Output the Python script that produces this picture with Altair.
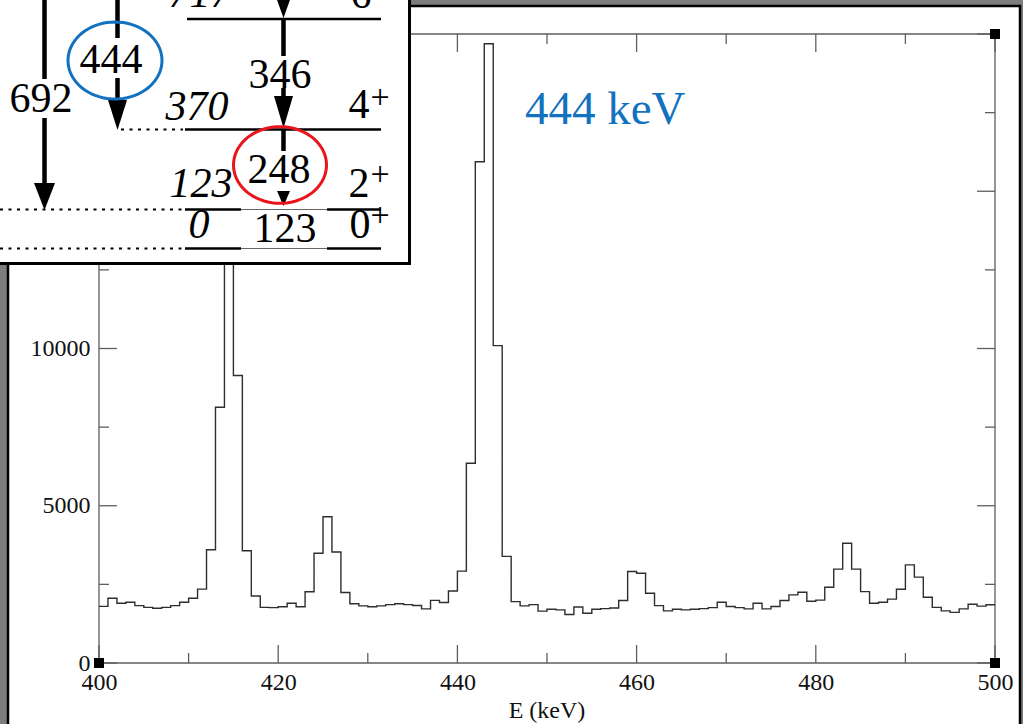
import altair as alt
import pandas as pd
import numpy as np

SERIF = "Liberation Serif"
OX, OY = 99, 34          # plot-area origin in the page
W, H = 896, 629          # plot-area size

# ---------------- data ----------------
bin_start = list(range(400, 500))
counts = [
    1800, 2060, 1900, 1930, 1825, 1770, 1740, 1770, 1825, 1930,   # 400-409
    2060, 2350, 3600, 8130, 17000, 9140, 3570, 2130, 1770, 1760,  # 410-419
    1790, 1900, 1790, 2265, 3490, 4650, 3530, 2240, 1885, 1815,   # 420-429
    1790, 1815, 1855, 1885, 1855, 1830, 1720, 1990, 1925, 2290,   # 430-439
    2920, 6350, 15940, 19690, 10090, 3390, 1950, 1815, 1855, 1650,  # 440-449
    1710, 1690, 1540, 1783, 1580, 1710, 1730, 1750, 1985, 2910,   # 450-459
    2855, 2220, 1825, 1656, 1710, 1690, 1710, 1730, 1760, 1930,   # 460-469
    1795, 1760, 1720, 1900, 1720, 1795, 1985, 2165, 2250, 1965,   # 470-479
    2000, 2410, 2985, 3810, 2985, 2270, 1900, 1930, 2030, 2345,   # 480-489
    3120, 2730, 2090, 1770, 1656, 1610, 1720, 1870, 1810, 1850,   # 490-499
]
x_major = [400, 420, 440, 460, 480, 500]
x_minor = [410, 430, 450, 470, 490]
y_major = [0, 5000, 10000, 15000, 20000]
y_minor = [2500, 7500, 12500, 17500]
y_labels = [0, 5000, 10000]
corner_E = [400, 500, 500, 400]
corner_N = [0, 0, 20000, 20000]

level_energy = ["0", "123", "370", "717"]
level_spin = ["0", "2", "4", "6"]
gamma_energy = ["692", "444", "346", "248", "123"]
peak_label = "444 keV"
x_title = "E (keV)"

# ---------------- styles ----------------
FRAME = "#5f5f5f"
BLUE = "#1272c0"
RED = "#e8161c"

xs = alt.Scale(domain=[400, 500], nice=False, zero=False)
ys = alt.Scale(domain=[0, 20000], nice=False, zero=True)
AX = alt.Axis(values=x_major, format="d", title=None, ticks=False, tickSize=0,
              domain=False, grid=False, labelFont=SERIF, labelFontSize=24,
              labelColor="#111111", labelPadding=7, labelFlush=False, zindex=1)
AY = alt.Axis(values=y_labels, format="d", title=None, ticks=False, tickSize=0,
              domain=False, grid=False, labelFont=SERIF, labelFontSize=24,
              labelColor="#111111", labelPadding=9, labelFlush=False, zindex=1)

def X(f="E"):
    return alt.X(f + ":Q", scale=xs, axis=AX)

def Y(f="N"):
    return alt.Y(f + ":Q", scale=ys, axis=AY)

ONE = alt.Data(values=[{"a": 1}])

def px_rule(x1, y1, x2, y2, w=2.0, color="black", dash=None):
    kw = dict(color=color, strokeWidth=w, strokeCap="butt")
    if dash:
        kw["strokeDash"] = dash
    return alt.Chart(ONE).mark_rule(**kw).encode(
        x=alt.value(x1 - OX), x2=alt.value(x2 - OX),
        y=alt.value(y1 - OY), y2=alt.value(y2 - OY))

def px_text(txt, x, y, size=42, color="black", style="normal", align="center",
            baseline="alphabetic"):
    return alt.Chart(ONE).mark_text(text=txt, font=SERIF, fontSize=size,
                                    fontStyle=style, color=color, align=align,
                                    baseline=baseline).encode(
        x=alt.value(x - OX), y=alt.value(y - OY))

def arrowhead(x, tip, halfw, height):
    hh = height / 2.0
    path = f"M{-halfw / hh:.4f},-1L{halfw / hh:.4f},-1L0,1Z"
    return alt.Chart(ONE).mark_point(shape=path, size=(2 * hh) ** 2, filled=True,
                                     color="black", opacity=1, strokeWidth=0).encode(
        x=alt.value(x - OX), y=alt.value(tip - hh - OY))

def ellipse(cx, cy, rx, ry, color):
    t = np.linspace(0, 2 * np.pi, 73)[:-1]
    pts = [f"{np.cos(a):.4f},{(ry / rx) * np.sin(a):.4f}" for a in t]
    path = "M" + "L".join(pts) + "Z"
    return alt.Chart(ONE).mark_point(shape=path, size=(2 * rx) ** 2, filled=False,
                                     stroke=color, strokeWidth=3, opacity=1).encode(
        x=alt.value(cx - OX), y=alt.value(cy - OY))

layers = []

# white page panel with black border over gray background
layers.append(alt.Chart(ONE).mark_rect(fill="white", stroke="black", strokeWidth=2.5).encode(
    x=alt.value(8 - OX), x2=alt.value(1020 - OX), y=alt.value(6 - OY), y2=alt.value(780 - OY)))

# plot frame
layers.append(alt.Chart(ONE).mark_rect(fillOpacity=0, stroke=FRAME, strokeWidth=1.3).encode(
    x=alt.value(0), x2=alt.value(W), y=alt.value(0), y2=alt.value(H)))

# histogram
hist = pd.DataFrame({"E": bin_start + [500], "N": counts + [counts[-1]]})
layers.append(alt.Chart(hist).mark_line(interpolate="step-after", color="#2e2e2e",
                                        strokeWidth=1.4).encode(x=X(), y=Y()))

# inward ticks (all four sides)
dxM = pd.DataFrame({"E": x_major})
dxm = pd.DataFrame({"E": x_minor})
dyM = pd.DataFrame({"N": y_major})
dym = pd.DataFrame({"N": y_minor})
TK = dict(color=FRAME, strokeWidth=1.3)
for d, L in ((dxM, 18), (dxm, 10)):
    layers.append(alt.Chart(d).mark_rule(**TK).encode(x=X(), y=alt.value(H), y2=alt.value(H - L)))
    layers.append(alt.Chart(d).mark_rule(**TK).encode(x=X(), y=alt.value(0), y2=alt.value(L)))
for d, L in ((dyM, 18), (dym, 10)):
    layers.append(alt.Chart(d).mark_rule(**TK).encode(y=Y(), x=alt.value(0), x2=alt.value(L)))
    layers.append(alt.Chart(d).mark_rule(**TK).encode(y=Y(), x=alt.value(W), x2=alt.value(W - L)))

# corner squares
dc = pd.DataFrame({"E": corner_E, "N": corner_N})
layers.append(alt.Chart(dc).mark_square(size=100, color="black", opacity=1).encode(x=X(), y=Y()))

# x-axis title and peak label
layers.append(px_text(x_title, OX + W / 2, 718, size=24, color="#111111"))
layers.append(px_text(peak_label, 525, 124, size=47, color=BLUE, align="left"))

# ---------------- inset level scheme ----------------
layers.append(alt.Chart(ONE).mark_rect(fill="white", stroke="black", strokeWidth=3).encode(
    x=alt.value(-30 - OX), x2=alt.value(409.5 - OX), y=alt.value(-30 - OY), y2=alt.value(263.5 - OY)))

# level lines
layers.append(px_rule(187, 19, 381, 19, w=2.5))
layers.append(px_rule(185, 129.5, 381, 129.5, w=2.5))
for yy in (209.5, 248.5):
    layers.append(px_rule(185, yy, 241, yy, w=2.5))
    layers.append(px_rule(327, yy, 381, yy, w=2.5))
    layers.append(px_rule(241, yy, 327, yy, w=1, color="#666666"))
# dotted extensions
DOT = [3, 5.5]
layers.append(px_rule(121, 129.5, 183, 129.5, w=2, dash=DOT))
layers.append(px_rule(0, 209.5, 183, 209.5, w=2, dash=DOT))
layers.append(px_rule(0, 248.5, 183, 248.5, w=2, dash=DOT))

# gamma transitions
GW = 4.5
layers.append(px_rule(44.5, 0, 44.5, 79, w=GW))
layers.append(px_rule(44.5, 118, 44.5, 186, w=GW))
layers.append(px_rule(117.5, 0, 117.5, 38, w=GW))
layers.append(px_rule(117.5, 78, 117.5, 103, w=GW))
layers.append(px_rule(283.5, 19, 283.5, 56, w=GW))
layers.append(px_rule(283.5, 88, 283.5, 98, w=GW))
layers.append(px_rule(283.5, 129, 283.5, 151, w=GW))
layers.append(arrowhead(44.5, 210, 10.5, 27))
layers.append(arrowhead(117.5, 130, 9.5, 30))
layers.append(arrowhead(283.5, 128, 9.5, 32))
layers.append(arrowhead(283.5, 206, 6.5, 15))
layers.append(arrowhead(283.5, 18, 10, 28))

# gamma labels
layers.append(px_text(gamma_energy[0], 41, 112))
layers.append(px_text(gamma_energy[1], 111, 73))
layers.append(px_text(gamma_energy[2], 280, 88))
layers.append(px_text(gamma_energy[3], 279, 183))
layers.append(px_text(gamma_energy[4], 285, 242))

# level energies (italic)
layers.append(px_text(level_energy[3], 200, 7, style="italic"))
layers.append(px_text(level_energy[2], 197, 120, style="italic"))
layers.append(px_text(level_energy[1], 201, 197, style="italic"))
layers.append(px_text(level_energy[0], 199, 238, style="italic"))

# spins / parities
layers.append(px_text(level_spin[3], 361, 8))
layers.append(px_text(level_spin[2], 359, 118))
layers.append(px_text(level_spin[1], 359, 197))
layers.append(px_text(level_spin[0], 360, 238))
for yb in (108, 185, 226):
    layers.append(px_text("+", 380, yb, size=34))

# highlight ellipses
layers.append(ellipse(115, 60.5, 47, 38.5, BLUE))
layers.append(ellipse(280, 165, 46.5, 38.3, RED))

chart = alt.layer(*layers).properties(
    width=W, height=H,
    padding={"left": OX, "top": OY, "right": 1023 - OX - W, "bottom": 724 - OY - H},
    autosize=alt.AutoSizeParams(type="none"),
    background="#7d7d7d",
).configure_view(stroke=None)

chart.save("out.html", embed_options={"renderer": "svg", "actions": False})
